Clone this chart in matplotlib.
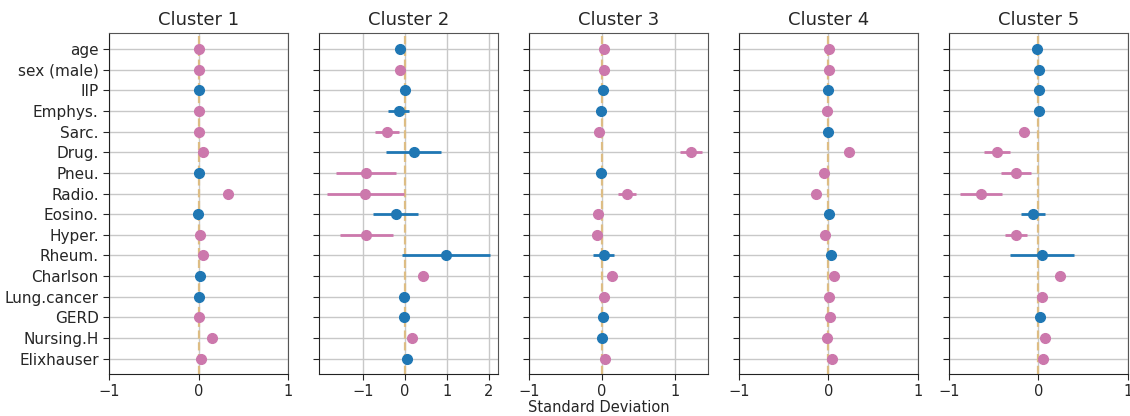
import matplotlib
matplotlib.use("Agg")
import matplotlib.pyplot as plt
import numpy as np

features = ["age", "sex (male)", "IIP", "Emphys.", "Sarc.", "Drug.", "Pneu.",
            "Radio.", "Eosino.", "Hyper.", "Rheum.", "Charlson", "Lung.cancer",
            "GERD", "Nursing.H", "Elixhauser"]
clusters = ["Cluster 1", "Cluster 2", "Cluster 3", "Cluster 4", "Cluster 5"]

# standardized mean difference per feature, half width of the interval,
# and whether the interval excludes zero
c1_mean = [0.01, 0.01, 0.0, 0.005, 0.01, 0.055, 0.0, 0.33, -0.005, 0.02, 0.055, 0.02, 0.0, 0.005, 0.155, 0.025]
c1_err = [0.02] * 16
c1_sig = [1, 1, 0, 1, 1, 1, 0, 1, 0, 1, 1, 0, 0, 1, 1, 1]

c2_mean = [-0.11, -0.11, 0.0, -0.15, -0.43, 0.21, -0.93, -0.94, -0.22, -0.92, 0.98, 0.44, -0.02, -0.01, 0.17, 0.05]
c2_err = [0.1, 0.06, 0.07, 0.25, 0.28, 0.66, 0.72, 0.91, 0.53, 0.63, 1.04, 0.08, 0.07, 0.07, 0.07, 0.08]
c2_sig = [0, 1, 0, 0, 1, 0, 1, 1, 0, 1, 0, 1, 0, 0, 1, 0]

c3_mean = [0.02, 0.02, 0.01, -0.01, -0.04, 1.22, -0.01, 0.34, -0.06, -0.07, 0.02, 0.14, 0.02, 0.01, 0.0, 0.04]
c3_err = [0.015, 0.015, 0.03, 0.03, 0.02, 0.15, 0.06, 0.125, 0.03, 0.03, 0.145, 0.04, 0.015, 0.03, 0.03, 0.02]
c3_sig = [1, 1, 0, 0, 1, 1, 0, 1, 1, 1, 0, 1, 1, 0, 0, 1]

c4_mean = [0.01, 0.01, 0.0, -0.015, 0.0, 0.23, -0.05, -0.14, 0.01, -0.035, 0.03, 0.06, 0.01, 0.015, -0.015, 0.04]
c4_err = [0.008, 0.008, 0.02, 0.01, 0.02, 0.04, 0.03, 0.04, 0.02, 0.02, 0.06, 0.03, 0.008, 0.01, 0.01, 0.02]
c4_sig = [1, 1, 0, 1, 0, 1, 1, 1, 0, 1, 0, 1, 1, 1, 1, 1]

c5_mean = [-0.01, 0.01, 0.005, 0.01, -0.16, -0.46, -0.25, -0.64, -0.06, -0.25, 0.045, 0.24, 0.04, 0.02, 0.07, 0.055]
c5_err = [0.03, 0.03, 0.03, 0.03, 0.06, 0.145, 0.165, 0.24, 0.135, 0.125, 0.36, 0.05, 0.03, 0.03, 0.04, 0.04]
c5_sig = [0, 0, 0, 0, 1, 1, 1, 1, 0, 1, 0, 1, 1, 0, 1, 1]

means = [c1_mean, c2_mean, c3_mean, c4_mean, c5_mean]
errs = [c1_err, c2_err, c3_err, c4_err, c5_err]
sigs = [c1_sig, c2_sig, c3_sig, c4_sig, c5_sig]

BLUE = "#1f77b4"
PINK = "#cc78ac"
TEXT = "#262626"

plt.rcParams["font.family"] = "DejaVu Sans"
plt.rcParams["font.size"] = 10.5

fig, axes = plt.subplots(1, 5, figsize=(11.3, 4.16), dpi=100, sharey=True)
fig.subplots_adjust(left=0.0965, right=0.998, bottom=0.102, top=0.921, wspace=0.173)

y = np.arange(len(features))
for ax, name, m, e, s in zip(axes, clusters, means, errs, sigs):
    ax.axvline(0, color="#ddbd84", ls="--", lw=1.6, zorder=2)
    for yi in y:
        c = PINK if s[yi] else BLUE
        ax.errorbar(m[yi], yi, xerr=e[yi], fmt="o", color=c, ms=7,
                    elinewidth=2, capsize=0, zorder=3)
    # keep at least [-1, 1] visible, widen when the intervals need it
    lo, hi = ax.get_xlim()
    lo, hi = min(-1, lo), max(1, hi)
    ax.set_xlim(lo, hi)
    ax.set_xticks([t for t in range(-1, 3) if t <= hi])
    ax.set_title(name, fontsize=13, color=TEXT)
    ax.grid(True, color="#c8c8c8", lw=1)
    ax.set_axisbelow(True)
    for side in ["left", "bottom"]:
        ax.spines[side].set_color("#222222")
    for side in ["top", "right"]:
        ax.spines[side].set_color("#555555")
    ax.tick_params(colors=TEXT, labelsize=10.5, length=4)

axes[0].set_yticks(y)
axes[0].set_yticklabels(features)
axes[0].tick_params(axis="y", labelsize=11)
axes[0].set_ylim(15.73, -0.79)

fig.text(0.53, 0.02, "Standard Deviation", ha="center", va="center",
         fontsize=10.5, color=TEXT)

fig.savefig("out.png", dpi=100)
